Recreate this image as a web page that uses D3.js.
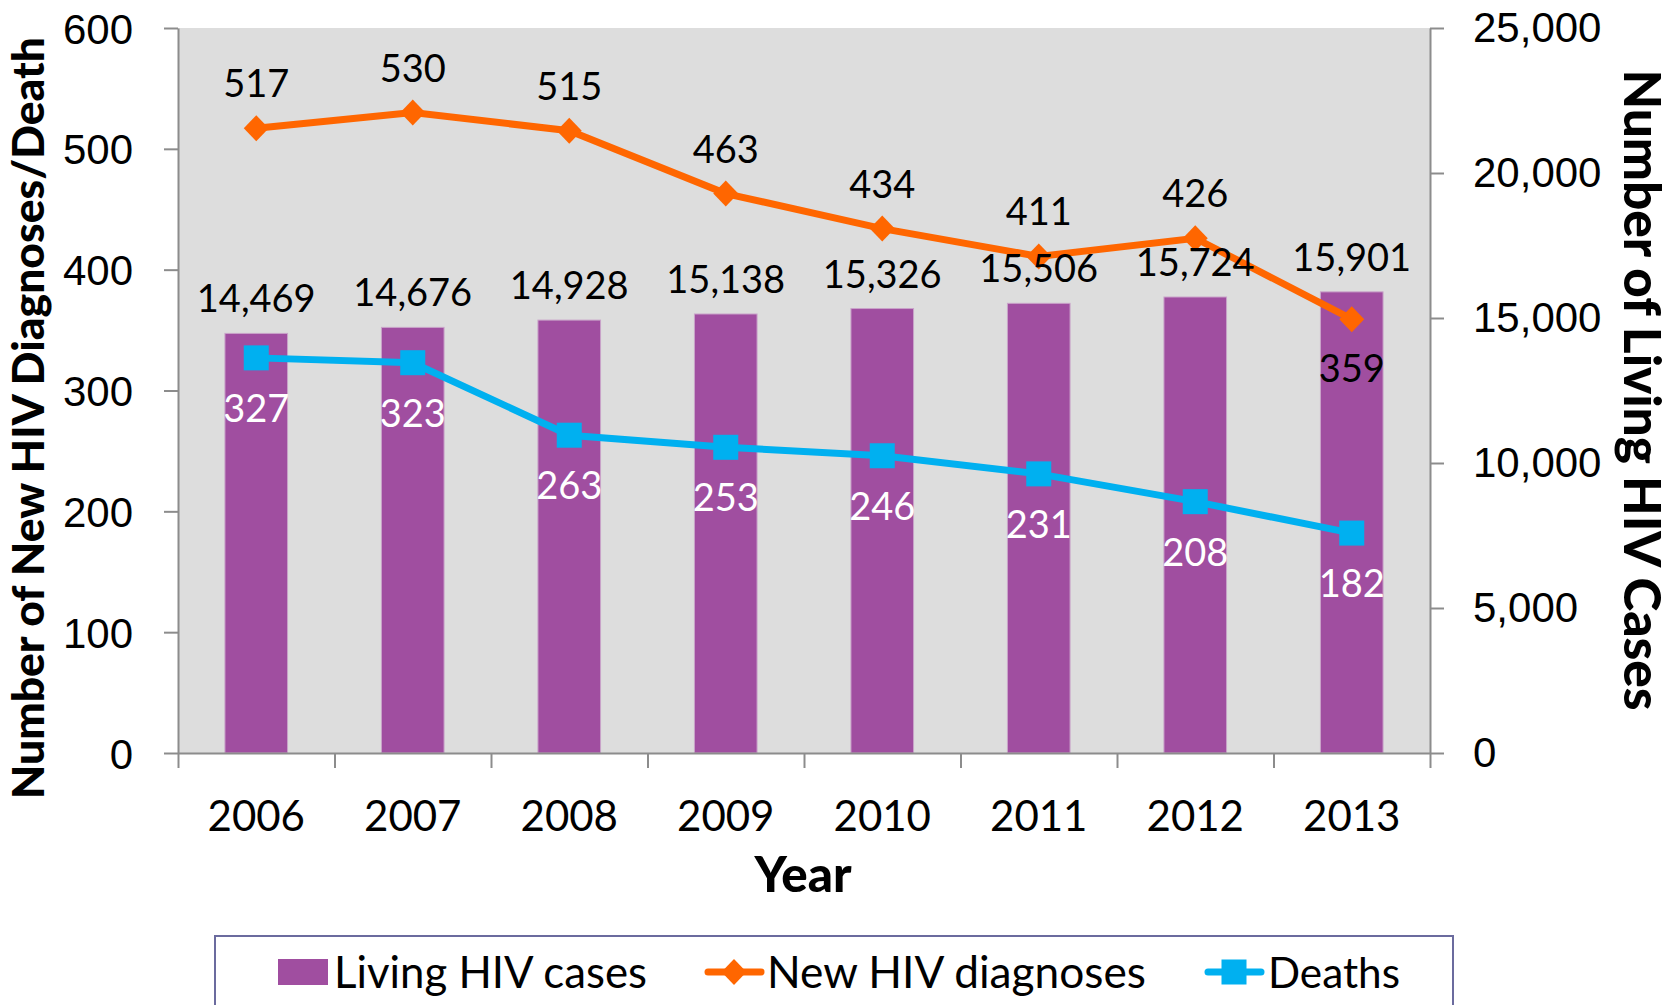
<!DOCTYPE html>
<html>
<head>
<meta charset="utf-8">
<script src="https://cdn.jsdelivr.net/npm/d3@7"></script>
<style>
    body { margin: 0; background: #fff; }
    svg  { display: block; font-family: Lato, 'Open Sans', sans-serif; }
</style>
</head>
<body>
<svg width="1675" height="1005"></svg>
<script>
const years    = ['2006', '2007', '2008', '2009', '2010', '2011', '2012', '2013']
const living   = [14469, 14676, 14928, 15138, 15326, 15506, 15724, 15901]
const newDiag  = [517, 530, 515, 463, 434, 411, 426, 359]
const deaths   = [327, 323, 263, 253, 246, 231, 208, 182]
const leftTicks  = [0, 100, 200, 300, 400, 500, 600]
const rightTicks = [0, 5000, 10000, 15000, 20000, 25000]

const PURPLE = '#a04ea0'
const ORANGE = '#ff6600'
const BLUE   = '#00b0f0'
const AXIS   = '#8c8c8c'

const svg = d3.select('svg')
const m   = { left: 178, right: 1430, top: 28, bottom: 753 }

const x  = d3.scaleBand().domain(years).range([m.left, m.right])
const xb = d3.scaleLinear().domain([0, years.length]).range([m.left, m.right])
const yL = d3.scaleLinear().domain([0, 600]).range([m.bottom, m.top])
const yR = d3.scaleLinear().domain([0, 25000]).range([m.bottom, m.top])
const cx = d => x(d) + x.bandwidth() / 2
const fmt = d3.format(',')

// shrink/grow a text so it spans the given length
const fit = (sel, len) => {
    const w  = sel.node().getComputedTextLength()
    const fs = parseFloat(sel.style('font-size'))
    sel.style('font-size', (fs * len / w) + 'px')
}

svg.append('rect')
    .attr('x', m.left).attr('y', m.top)
    .attr('width', m.right - m.left).attr('height', m.bottom - m.top)
    .attr('fill', '#dddddd')

// bars
const bw = x.bandwidth() * 0.4
svg.append('g').selectAll('rect').data(years).join('rect')
    .attr('x', d => cx(d) - bw / 2)
    .attr('y', (d, i) => yR(living[i]))
    .attr('width', bw)
    .attr('height', (d, i) => m.bottom - yR(living[i]))
    .attr('fill', PURPLE)
    .attr('stroke', '#c9a3c9')
    .attr('stroke-width', 1)

// axes
const styleAxis = g => {
    g.selectAll('path, line').attr('stroke', AXIS).attr('stroke-width', 2)
    g.selectAll('text').attr('fill', '#000').style('font-size', '42px')
}

svg.append('g')
    .attr('transform', `translate(${m.left},0)`)
    .call(d3.axisLeft(yL).tickValues(leftTicks).tickSize(14).tickSizeOuter(0).tickPadding(31))
    .call(styleAxis)
    .call(g => g.selectAll('text').attr('dy', '0.36em'))

svg.append('g')
    .attr('transform', `translate(${m.right},0)`)
    .call(d3.axisRight(yR).tickValues(rightTicks).tickSize(14).tickSizeOuter(0).tickPadding(29).tickFormat(fmt))
    .call(styleAxis)

svg.append('g')
    .attr('transform', `translate(0,${m.bottom})`)
    .call(d3.axisBottom(xb).tickValues(d3.range(years.length + 1)).tickSize(15).tickSizeOuter(0).tickFormat(''))
    .call(styleAxis)

svg.append('g').selectAll('text').data(years).join('text')
    .attr('x', cx)
    .attr('y', 831)
    .attr('text-anchor', 'middle')
    .style('font-size', '42px')
    .text(d => d)

// lines
const lineL = vals => d3.line().x((d, i) => cx(years[i])).y(d => yL(d))(vals)

svg.append('path')
    .attr('d', lineL(deaths))
    .attr('fill', 'none').attr('stroke', BLUE).attr('stroke-width', 7)

svg.append('g').selectAll('rect').data(deaths).join('rect')
    .attr('x', (d, i) => cx(years[i]) - 12.5)
    .attr('y', d => yL(d) - 12.5)
    .attr('width', 25).attr('height', 25)
    .attr('fill', BLUE)

svg.append('path')
    .attr('d', lineL(newDiag))
    .attr('fill', 'none').attr('stroke', ORANGE).attr('stroke-width', 7)

const diamond = 'M0,-13L12.5,0L0,13L-12.5,0Z'
svg.append('g').selectAll('path').data(newDiag).join('path')
    .attr('transform', (d, i) => `translate(${cx(years[i])},${yL(d)})`)
    .attr('d', diamond)
    .attr('fill', ORANGE)

// data labels
const lab = svg.append('g').attr('text-anchor', 'middle').style('font-size', '38px')

lab.selectAll('.bar-lab').data(living).join('text')
    .attr('class', 'bar-lab')
    .attr('x', (d, i) => cx(years[i]))
    .attr('y', d => yR(d) - 21)
    .text(fmt)

lab.selectAll('.new-lab').data(newDiag).join('text')
    .attr('class', 'new-lab')
    .attr('x', (d, i) => cx(years[i]))
    .attr('y', (d, i) => i === years.length - 1 ? yL(d) + 63 : yL(d) - 31)
    .text(d => d)

lab.selectAll('.death-lab').data(deaths).join('text')
    .attr('class', 'death-lab')
    .attr('x', (d, i) => cx(years[i]))
    .attr('y', d => yL(d) + 64)
    .attr('fill', '#fff')
    .text(d => d)

// axis titles
svg.append('text')
    .attr('transform', 'translate(44,418) rotate(-90)')
    .attr('text-anchor', 'middle')
    .style('font-size', '36px').style('font-weight', 900)
    .text('Number of New HIV Diagnoses/Death')
    .call(fit, 762)

svg.append('text')
    .attr('transform', 'translate(1624,390) rotate(90)')
    .attr('text-anchor', 'middle')
    .style('font-size', '36px').style('font-weight', 900)
    .text('Number of Living HIV Cases')
    .call(fit, 641)

svg.append('text')
    .attr('x', 803).attr('y', 892)
    .attr('text-anchor', 'middle')
    .style('font-size', '42px').style('font-weight', 900)
    .text('Year')
    .call(fit, 97)

// legend
const legend = svg.append('g')
legend.append('rect')
    .attr('x', 215).attr('y', 936)
    .attr('width', 1238).attr('height', 100)
    .attr('fill', '#fff').attr('stroke', '#6b6b9e').attr('stroke-width', 2)

legend.append('rect')
    .attr('x', 278).attr('y', 959).attr('width', 50).attr('height', 26)
    .attr('fill', PURPLE)

legend.append('line')
    .attr('x1', 708).attr('x2', 761).attr('y1', 972).attr('y2', 972)
    .attr('stroke', ORANGE).attr('stroke-width', 7).attr('stroke-linecap', 'round')
legend.append('path')
    .attr('transform', 'translate(734,972)')
    .attr('d', diamond).attr('fill', ORANGE)

legend.append('line')
    .attr('x1', 1208).attr('x2', 1261).attr('y1', 972).attr('y2', 972)
    .attr('stroke', BLUE).attr('stroke-width', 7).attr('stroke-linecap', 'round')
legend.append('rect')
    .attr('x', 1221.5).attr('y', 959.5).attr('width', 25).attr('height', 25)
    .attr('fill', BLUE)

const legendItems = [
    { label: 'Living HIV cases',  x: 334,  len: 313 },
    { label: 'New HIV diagnoses', x: 767,  len: 379 },
    { label: 'Deaths',            x: 1268, len: 132 }
]
legendItems.forEach(it => {
    legend.append('text')
        .attr('x', it.x).attr('y', 988)
        .style('font-size', '42px')
        .text(it.label)
        .call(fit, it.len)
})
</script>
</body>
</html>
